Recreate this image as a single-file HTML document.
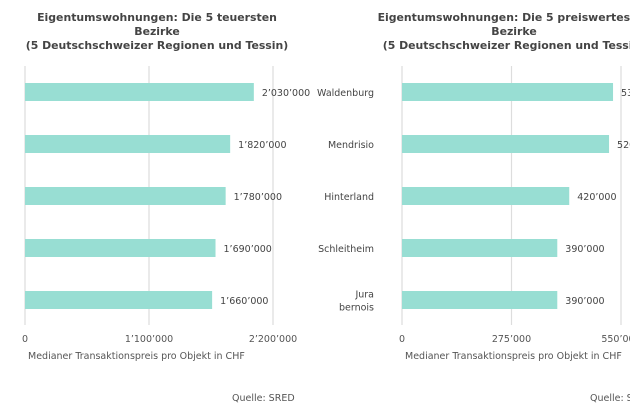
<!DOCTYPE html>
<html><head><meta charset="utf-8"><style>
body{margin:0;background:#fff;width:630px;height:412px;overflow:hidden}
svg{font-family:"DejaVu Sans","Liberation Sans",sans-serif}
</style></head><body>
<svg id="c" width="630" height="412"></svg>
<script>
const leftCategories=["Meilen","Höfe","Küssnacht","Zürich","Horgen"];
const leftValues=[2030000,1820000,1780000,1690000,1660000];
const leftTicks=[0,1100000,2200000];
const leftTickLabels=["0","1’100’000","2’200’000"];
const rightCategories=[["Waldenburg"],["Mendrisio"],["Hinterland"],["Schleitheim"],["Jura","bernois"]];
const rightValues=[530000,520000,420000,390000,390000];
const rightTicks=[0,275000,550000];
const rightTickLabels=["0","275’000","550’000"];
const NS="http://www.w3.org/2000/svg";
const svg=document.getElementById('c');
function fmt(v){return String(v).replace(/\B(?=(\d{3})+(?!\d))/g,"’");}
function mk(t,a,p){const e=document.createElementNS(NS,t);for(const k in a)e.setAttribute(k,a[k]);(p||svg).appendChild(e);return e;}
function panel(x0,px,maxV,cats,vals,ticks,tlabels,title,tcx,name,showCats,srcX){
  const g=mk('g',{});
  
  
  const xs=v=>x0+v/maxV*px;
  const rowY=i=>92+i*52;
  title.forEach((t,i)=>{const e=mk('text',{x:tcx,y:21+i*14,'text-anchor':'middle','font-size':'10.9','font-weight':'bold',fill:'#444'},g);e.textContent=t;
    });
  ticks.forEach((t,i)=>{const l=mk('line',{x1:xs(t),x2:xs(t),y1:66,y2:325,stroke:'#ddd','stroke-width':1.2},g);
    
    const e=mk('text',{x:xs(t),y:342,'text-anchor':'middle','font-size':'9.5',fill:'#555'},g);e.textContent=tlabels[i];
    });
  vals.forEach((v,i)=>{const y=rowY(i);
    const r=mk('rect',{x:x0,y:y-9,width:xs(v)-x0,height:18,fill:'#98ded3'},g);
    
    const e=mk('text',{x:xs(v)+8,y:y+4,'font-size':'9.5',fill:'#444'},g);e.textContent=fmt(v);
    
    if(showCats){const lines=cats[i];lines.forEach((ln,j)=>{const c=mk('text',{x:x0-28,y:y+4+(j-(lines.length-1)/2)*13,'text-anchor':'end','font-size':'9.5',fill:'#444'},g);c.textContent=ln;
      });}
  });
  const at=mk('text',{x:x0+3,y:359,'font-size':'9.5',fill:'#555'},g);at.textContent="Medianer Transaktionspreis pro Objekt in CHF";
  
  const s=mk('text',{x:srcX,y:401,'font-size':'9.5',fill:'#555'},g);s.textContent="Quelle: SRED";
  
}
panel(25,248,2200000,leftCategories,leftValues,leftTicks,leftTickLabels,["Eigentumswohnungen: Die 5 teuersten","Bezirke","(5 Deutschschweizer Regionen und Tessin)"],157,'left-panel',false,232);
panel(402,219,550000,rightCategories,rightValues,rightTicks,rightTickLabels,["Eigentumswohnungen: Die 5 preiswertesten","Bezirke","(5 Deutschschweizer Regionen und Tessin)"],514,'right-panel',true,590);
</script>
</body></html>
